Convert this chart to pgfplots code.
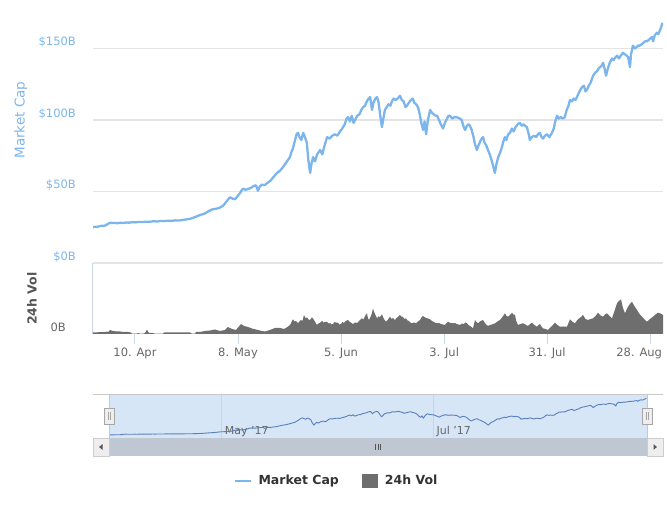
\documentclass[border=0pt]{standalone}
\usepackage{pgfplots}
\usepackage{pgfplotstable}
\pgfplotsset{compat=1.18}
\usepackage{fontspec}
\setmainfont{DejaVu Sans}
\definecolor{mcblue}{RGB}{124,181,236}
\definecolor{volgray}{RGB}{110,110,110}
\definecolor{gridgray}{RGB}{228,228,228}
\definecolor{axisblue}{RGB}{204,214,235}
\definecolor{labelgray}{RGB}{102,102,102}
\definecolor{labeldark}{RGB}{85,85,85}
\definecolor{legtext}{RGB}{51,51,51}
\definecolor{navmask}{RGB}{215,230,246}
\definecolor{navgrid}{RGB}{198,212,232}
\definecolor{navline}{RGB}{88,128,186}
\definecolor{track}{RGB}{191,200,210}
\definecolor{btnfill}{RGB}{238,238,238}
\definecolor{btnborder}{RGB}{204,204,204}
\definecolor{outline}{RGB}{200,200,200}

% Market cap (billion USD) vs day (0 = 10 Apr 2017)
\pgfplotstableread{
day val
-11.4 25.0
-10.8 25.4
-10.2 25.2
-9.6 25.8
-9.0 26.0
-8.4 25.9
-7.8 26.6
-7.2 27.6
-6.6 28.2
-6.0 27.9
-5.4 28.0
-4.8 27.8
-4.0 28.1
-3.2 28.0
-2.4 28.3
-1.6 28.2
-0.8 28.5
0 28.4
1 28.7
2 28.6
3 28.9
4 28.8
5 29.2
6 29.0
7 29.4
8 29.3
9 29.6
10 29.5
11 29.8
12 29.7
13 30.1
14 30.5
15 30.9
16 31.8
17 32.9
18 33.8
19 34.6
20 36.2
21 37.5
22 37.9
23 38.6
24 40.2
25 43.5
25.8 46.0
26.5 45.0
27.2 44.6
27.8 46.5
28.5 48.8
29.3 52.0
30 51.2
30.8 51.8
31.5 52.5
32.2 53.8
32.9 54.3
33.4 50.5
33.9 53.5
34.5 54.8
35.2 54.5
36 56
36.8 57.5
37.6 60
38.6 63
39.4 64.5
40.2 67
41 70
41.7 72.5
42.1 74
42.5 77.5
42.9 80
43.4 85
43.9 90
44.3 91
44.7 88
45.2 86
45.7 91
46.2 88
46.7 84
47.1 72
47.6 63
48 70
48.4 74
48.9 71
49.5 76
50.3 79
50.9 76
51.5 82
52.2 88
52.9 87
53.6 89
54.3 90
55 89
55.7 92
56.3 94
57 97
57.5 101
57.9 102
58.4 99
58.9 103
59.4 98
59.8 100
60.4 103
61 104
61.5 107
62 109
62.5 110
63 113
63.5 115
63.9 116
64.2 111
64.4 107
64.8 112
65.3 115
65.8 116
66.2 112
66.6 104
67.1 95
67.5 101
67.9 107
68.4 109
68.9 111
69.4 110
69.8 113
70.3 115
70.8 114
71.4 115
72 117
72.5 114
73 113
73.5 109
73.9 110
74.4 112
75 114
75.5 115
75.9 112
76.4 111
76.9 109
77.3 105
77.8 98
78.3 93
78.7 99
79.1 90
79.6 100
80.2 107
80.7 105
81.2 104
81.7 103
82.1 103
82.6 100
83.1 97
83.7 94
84.2 98
84.8 101
85.2 103
85.6 103
86.2 101
86.8 102
87.4 102
88.3 101
88.8 100
89.2 96
89.7 93
90.2 96
90.6 97
91 96
91.5 93
92 88
92.4 83
92.9 79
93.3 82
93.8 85
94.2 87
94.6 88
95 84
95.5 82
95.9 79
96.4 76
96.9 72
97.4 67
97.8 63
98.2 69
98.7 74
99.2 77
99.6 80
100 84
100.5 88
100.9 86
101.4 90
101.9 91
102.4 94
102.9 92
103.4 95
104 97
104.6 98
105.1 96
105.6 97
106 96
106.5 95
107 90
107.3 86
107.8 88
108.4 89
109 88
109.5 90
110 91
110.5 88
110.9 87
111.4 89
112 90
112.6 88
113.3 91
113.8 94
114.2 99
114.7 103
115.2 101
115.7 102
116.3 101
116.8 102
117.3 107
117.8 110
118.2 114
118.7 113
119.2 115
119.7 114
120.1 116
120.6 119
121 121
121.5 123
122 124
122.4 120
122.8 121
123.3 124
123.8 126
124.2 129
124.5 131
125 133
125.5 134
126 136
126.4 137
126.8 138
127.2 140
127.6 136
128 131
128.5 136
129 140
129.6 143
130.1 142
130.6 144
131 145
131.5 143
132 145
132.6 147
133.1 146
133.6 145
134 144
134.3 140
134.5 137
134.8 146
135.3 152
135.8 150
136.3 151
136.7 152
137.2 152
137.7 153
138.2 154
138.6 155
139.1 155
139.6 156
140 157
140.5 158
140.8 155
141.2 159
141.8 161
142.2 160
142.7 163
143.0 165
143.3 168
}\mcdata

% 24h volume (relative units, axis top = 7.1)
\pgfplotstableread{
day vol
-11.41 0.15
-10.60 0.15
-9.51 0.2
-8.70 0.18
-7.88 0.22
-7.07 0.25
-6.79 0.4
-5.98 0.3
-4.89 0.25
-4.08 0.25
-2.99 0.2
-1.90 0.2
-1.09 0.15
-0.82 0
0.54 0
0.82 0.1
1.09 0.05
1.36 0
2.17 0
2.72 0.1
3.26 0.43
3.80 0.1
4.89 0.1
5.43 0
7.61 0
7.88 0.15
9.51 0.15
12.23 0.15
14.95 0.15
15.49 0
16.30 0
16.58 0.2
17.66 0.2
19.02 0.3
20.38 0.35
21.74 0.45
23.10 0.3
24.46 0.4
25.27 0.7
26.36 0.5
27.45 0.4
28.80 1.0
29.62 0.8
30.71 0.7
31.79 0.55
33.42 0.4
34.51 0.3
35.33 0.25
36.68 0.4
38.04 0.6
39.40 0.6
40.49 0.5
41.30 0.67
42.12 0.9
42.93 1.47
43.35 1.25
43.75 1.3
44.29 1.07
44.70 1.25
45.11 1.4
45.50 1.3
45.92 1.9
46.30 1.6
46.74 1.65
47.15 1.45
47.55 1.4
48.10 1.67
48.64 1.4
49.05 1.15
49.46 0.9
49.85 1.05
50.27 1.1
50.82 1.33
51.20 1.15
51.63 1.2
52.17 1.23
52.60 1.05
52.99 1.1
53.40 0.95
53.80 1.0
54.20 1.2
54.62 1.15
55.16 1.13
55.55 0.95
55.98 1.0
56.40 1.2
56.79 1.1
57.30 1.3
57.88 1.4
58.42 1.2
58.80 1.1
59.24 1.0
59.80 1.15
60.33 1.1
60.75 1.25
61.14 1.4
61.68 1.57
62.10 1.45
62.50 1.8
63.04 2.07
63.30 1.6
63.59 1.4
64.13 1.8
64.40 2.1
64.67 2.57
64.95 2.2
65.22 2.0
65.76 1.57
66.15 1.75
66.58 1.7
67.12 1.97
67.40 1.7
67.66 1.5
68.21 1.23
68.75 1.45
69.29 1.73
69.70 1.5
70.11 1.6
70.65 1.4
71.05 1.6
71.47 1.7
72.01 1.9
72.40 1.75
72.83 1.7
73.20 1.5
73.64 1.57
74.05 1.35
74.46 1.3
74.85 1.15
75.27 1.07
75.80 1.15
76.36 1.07
76.90 1.25
77.45 1.4
77.85 1.65
78.26 1.8
78.65 1.7
79.08 1.6
79.60 1.55
80.16 1.47
80.70 1.3
81.25 1.2
81.65 1.1
82.07 1.07
82.60 1.1
83.15 1.0
83.70 0.95
84.24 0.9
84.65 1.1
85.05 1.23
85.45 1.15
85.87 1.1
86.41 1.07
86.95 1.1
87.50 1.0
87.90 0.95
88.32 0.9
88.85 1.05
89.40 1.0
89.80 1.15
90.22 1.07
90.60 0.9
91.03 0.8
91.45 0.7
91.85 0.57
92.39 1.4
92.80 1.2
93.21 1.07
93.90 1.3
94.57 1.4
95.25 1.0
95.92 0.8
96.45 0.9
97.01 0.95
97.40 1.0
97.83 1.07
98.50 1.25
99.18 1.4
99.85 1.7
100.54 2.07
100.95 1.8
101.36 1.73
101.90 1.9
102.45 2.13
102.85 1.95
103.26 1.9
103.60 1.3
104.08 0.9
104.75 1.0
105.43 1.07
106.10 0.95
106.79 0.8
107.35 1.0
107.88 1.13
108.55 0.9
109.24 0.73
109.65 0.9
110.05 1.0
110.45 0.75
110.87 0.57
111.55 0.5
112.23 0.4
113.15 0.75
114.13 1.13
114.80 0.9
115.49 0.73
116.45 0.75
117.39 0.73
117.80 1.1
118.21 1.47
118.90 1.2
119.57 1.07
120.20 1.4
120.65 1.55
121.20 1.7
121.74 1.9
122.40 1.5
123.10 1.4
123.80 1.5
124.46 1.57
125.15 1.8
125.82 2.13
126.50 1.85
127.17 1.73
127.70 1.95
128.26 2.07
128.95 1.8
129.62 1.57
130.30 2.3
130.98 3.07
131.50 3.3
132.07 3.47
132.60 2.6
133.15 2.07
133.55 2.4
133.97 2.73
134.50 3.0
135.05 3.23
135.70 2.8
136.41 2.4
137.10 2.0
137.77 1.73
138.45 1.45
139.13 1.23
139.95 1.5
140.76 1.73
141.45 1.95
142.12 2.13
142.80 2.05
143.48 1.9
}\voldata

\begin{document}
\begin{tikzpicture}[x=1pt,y=1pt]
\path[use as bounding box] (0,0) rectangle (667,513);

% ---------------- Market cap panel ----------------
\begin{axis}[
  at={(93pt,250pt)}, anchor=south west, scale only axis,
  width=570pt, height=250.25pt,
  xmin=-11.41, xmax=143.48, ymin=0, ymax=175,
  axis line style={draw=none},
  xtick=\empty,
  ytick={0,50,100,150},
  yticklabels={\$0B,\$50B,\$100B,\$150B},
  ymajorgrids, grid style={draw=gridgray, line width=1.1pt},
  major tick length=0pt,
  yticklabel style={anchor=base east, inner sep=0pt, xshift=-17pt, yshift=2.5pt,
    text=mcblue, font=\fontsize{11.5}{13}\selectfont},
  ylabel={Market Cap},
  ylabel style={at={(axis description cs:-0.1263,0.5714)}, anchor=center,
    text=mcblue, font=\fontsize{13.5}{16}\selectfont},
]
\addplot[mcblue, line width=2.3pt, line join=round, no markers] table[x=day,y=val] {\mcdata};
\end{axis}

% ---------------- Volume panel ----------------
\begin{axis}[
  at={(93pt,179pt)}, anchor=south west, scale only axis,
  width=570pt, height=71pt,
  xmin=-11.41, xmax=143.48, ymin=0, ymax=7.1,
  axis x line*=bottom, axis y line*=left,
  axis line style={draw=axisblue, line width=1pt, -},
  xtick={0,28,56,84,112,140},
  xticklabels={10. Apr,8. May,5. Jun,3. Jul,31. Jul,\hspace*{-22pt}28. Aug},
  ytick={0}, yticklabels={0B},
  x tick style={draw=axisblue, line width=1pt},
  y tick style={draw=none},
  tick align=outside, major tick length=10pt,
  xticklabel style={anchor=base, inner sep=0pt, yshift=-12.5pt,
    text=labelgray, font=\fontsize{11.5}{13}\selectfont},
  yticklabel style={anchor=base east, inner sep=0pt, xshift=-17pt, yshift=2pt,
    text=labelgray, font=\fontsize{11.5}{13}\selectfont},
  ylabel={24h Vol},
  ylabel style={at={(axis description cs:-0.107,0.5)}, anchor=center,
    text=labeldark, font=\bfseries\fontsize{12.5}{15}\selectfont},
  legend columns=2,
  legend style={at={(axis description cs:0.4254,-2.07)}, anchor=center,
    draw=none, fill=none, inner sep=0pt,
    font=\bfseries\fontsize{12.5}{15}\selectfont, text=legtext,
    nodes={inner sep=0pt, anchor=west},
    /tikz/every odd column/.append style={column sep=7pt},
    /tikz/every even column/.append style={column sep=23pt}},
]
\addlegendimage{legend image code/.code={\draw[mcblue, line width=2pt] (0pt,0pt) -- (16pt,0pt);}}
\addlegendentry{Market Cap}
\addplot[fill=volgray, draw=none,
  legend image code/.code={\fill[volgray] (0pt,-7pt) rectangle (16pt,7pt);}]
  table[x=day,y=vol] {\voldata} \closedcycle;
\addlegendentry{24h Vol}
\end{axis}

% ---------------- Navigator ----------------
\begin{axis}[
  at={(109pt,75pt)}, anchor=south west, scale only axis,
  width=538pt, height=44pt,
  xmin=-11.41, xmax=143.48, ymin=13.4, ymax=183.5,
  axis line style={draw=none},
  axis background/.style={fill=navmask},
  ytick=\empty,
  xtick={21,82}, xticklabels={May '17,Jul '17},
  xmajorgrids, grid style={draw=navgrid, line width=0.8pt},
  major tick length=0pt,
  xticklabel style={anchor=base west, inner sep=0pt, xshift=3pt, yshift=3pt,
    text=labelgray, font=\fontsize{11}{13}\selectfont},
]
\addplot[navline, line width=0.9pt, line join=round, no markers] table[x=day,y=val] {\mcdata};
\end{axis}

% navigator outline
\draw[outline, line width=0.9pt] (93,119) -- (663,119);
\draw[outline, line width=0.9pt] (109,119) -- (109,75);
\draw[outline, line width=0.9pt] (647,119) -- (647,75);
% scrollbar
\fill[track] (109,57) rectangle (647,75);
\filldraw[fill=btnfill, draw=btnborder, line width=0.8pt] (93,57) rectangle (109,75);
\filldraw[fill=btnfill, draw=btnborder, line width=0.8pt] (647,57) rectangle (663,75);
\fill[labeldark] (99,66) -- (102.5,68.8) -- (102.5,63.2) -- cycle;
\fill[labeldark] (657,66) -- (653.5,68.8) -- (653.5,63.2) -- cycle;
\draw[labeldark, line width=0.8pt] (375.5,63) -- (375.5,69) (378,63) -- (378,69) (380.5,63) -- (380.5,69);
% handles
\filldraw[fill=btnfill, draw=gray!70, line width=0.8pt] (104,89) rectangle (114,105);
\draw[gray!70, line width=0.7pt] (108,93) -- (108,101) (110,93) -- (110,101);
\filldraw[fill=btnfill, draw=gray!70, line width=0.8pt] (642,89) rectangle (652,105);
\draw[gray!70, line width=0.7pt] (646,93) -- (646,101) (648,93) -- (648,101);
\end{tikzpicture}
\end{document}
